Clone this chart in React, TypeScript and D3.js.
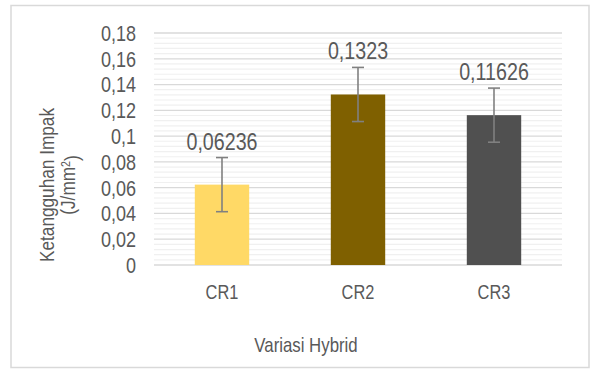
import React from "react";
import * as d3 from "d3";

const categories = ["CR1", "CR2", "CR3"];
const values = [0.06236, 0.1323, 0.11626];
const errors = [0.021, 0.021, 0.021];
const labels = ["0,06236", "0,1323", "0,11626"];
const colors = ["#FFD966", "#7F6000", "#505050"];
const yTicks = [0, 0.02, 0.04, 0.06, 0.08, 0.1, 0.12, 0.14, 0.16, 0.18];
const yTickLabels = ["0", "0,02", "0,04", "0,06", "0,08", "0,1", "0,12", "0,14", "0,16", "0,18"];
const minorTicks = d3.range(0, 0.1801, 0.004).filter((v) => Math.abs((v / 0.02) - Math.round(v / 0.02)) > 1e-6);

const W = 596, H = 370;
const plot = { left: 154, right: 562, top: 33, bottom: 265 };
const font = "'Liberation Sans', Arial, sans-serif";
const textColor = "#595959";
const SX = 0.82;

function NText({ x, y, size, anchor, children, dy }: any) {
  return (
    <text
      transform={`translate(${x},${y}) scale(${SX},1)`}
      dy={dy}
      textAnchor={anchor}
      fontFamily={font}
      fontSize={size}
      fill={textColor}
    >
      {children}
    </text>
  );
}

export default function App() {
  const x = d3.scaleBand<string>().domain(categories).range([plot.left, plot.right]).paddingInner(0.6).paddingOuter(0.3);
  const y = d3.scaleLinear().domain([0, 0.18]).range([plot.bottom, plot.top]);
  return (
    <svg width={W} height={H} style={{ position: "absolute", left: 0, top: 0 }}>
      <rect x={0} y={0} width={W} height={H} fill="#fff" />
      <rect x={11} y={5.5} width={578} height={362} fill="#fff" stroke="#d9d9d9" strokeWidth={1.5} />
      {minorTicks.map((t, i) => (
        <line key={"m" + i} x1={plot.left} x2={plot.right} y1={y(t)} y2={y(t)} stroke="#f0f0f0" strokeWidth={1.2} />
      ))}
      {yTicks.map((t, i) => (
        <line key={"g" + i} x1={plot.left} x2={plot.right} y1={y(t)} y2={y(t)} stroke="#d9d9d9" strokeWidth={1.3} />
      ))}
      {yTicks.map((t, i) => (
        <NText key={"t" + i} x={136} y={y(t)} dy="0.36em" anchor="end" size={22}>
          {yTickLabels[i]}
        </NText>
      ))}
      {categories.map((c, i) => {
        const bx = x(c)!;
        const cx = bx + x.bandwidth() / 2;
        const top = y(values[i] + errors[i]);
        const bot = y(values[i] - errors[i]);
        return (
          <g key={c}>
            <rect x={bx} y={y(values[i])} width={x.bandwidth()} height={y(0) - y(values[i])} fill={colors[i]} />
            <line x1={cx} x2={cx} y1={top} y2={bot} stroke="#808080" strokeWidth={1.6} />
            <line x1={cx - 6} x2={cx + 6} y1={top} y2={top} stroke="#808080" strokeWidth={1.6} />
            <line x1={cx - 6} x2={cx + 6} y1={bot} y2={bot} stroke="#808080" strokeWidth={1.6} />
            <NText x={cx} y={top - 8} anchor="middle" size={24}>
              {labels[i]}
            </NText>
            <NText x={cx} y={299} anchor="middle" size={20}>
              {c}
            </NText>
          </g>
        );
      })}
      <NText x={306} y={352} anchor="middle" size={20.5}>
        Variasi Hybrid
      </NText>
      <g transform="translate(47,185) rotate(-90)">
        <NText x={0} y={0} dy="0.35em" anchor="middle" size={21}>
          Ketangguhan Impak
        </NText>
        <NText x={0} y={21} dy="0.35em" anchor="middle" size={21}>
          (J/mm<tspan dy="-0.45em" fontSize={13}>2</tspan><tspan dy="0.45em">)</tspan>
        </NText>
      </g>
    </svg>
  );
}
